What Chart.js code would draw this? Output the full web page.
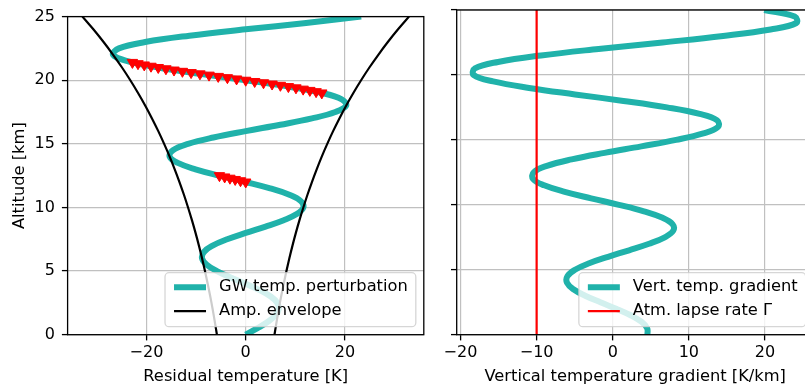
<!DOCTYPE html>
<html>
<head>
<meta charset="utf-8">
<script src="https://cdn.jsdelivr.net/npm/chart.js@4.4.1/dist/chart.umd.min.js"></script>
<style>
  html, body { margin: 0; padding: 0; background: #fff; overflow: hidden; }
  #wrap { position: relative; width: 805px; height: 390px; overflow: hidden; }
  #leftBox { position: absolute; left: 0; top: 0; width: 440px; height: 390px; }
  #rightBox { position: absolute; left: 440px; top: 0; width: 380px; height: 390px; }
</style>
</head>
<body>
<div id="wrap">
  <div id="leftBox"><canvas id="perturbChart" width="440" height="390"></canvas></div>
  <div id="rightBox"><canvas id="gradientChart" width="380" height="390"></canvas></div>
</div>
<script>
// ---------- data ----------
const altitude = [0, 0.5, 1, 1.5, 2, 2.5, 3, 3.5, 4, 4.5, 5, 5.5, 6, 6.5, 7, 7.5, 8, 8.5, 9, 9.5,
  10, 10.5, 11, 11.5, 12, 12.5, 13, 13.5, 14, 14.5, 15, 15.5, 16, 16.5, 17, 17.5, 18, 18.5, 19, 19.5,
  20, 20.5, 21, 21.5, 22, 22.5, 23, 23.5, 24, 24.5, 25];

const gwPerturbation = [0, 2.30, 4.40, 5.95, 6.66, 6.37, 5.05, 2.83, 0, -3.03, -5.80, -7.85, -8.80, -8.42, -6.67, -3.74,
  0, 4.01, 7.66, 10.37, 11.62, 11.11, 8.80, 4.93, 0, -5.29, -10.12, -13.68, -15.33, -14.67, -11.62, -6.51,
  0, 6.98, 13.35, 18.07, 20.24, 19.36, 15.34, 8.60, 0, -9.22, -17.63, -23.85, -26.73, -25.56, -20.26, -11.35,
  0, 12.17, 23.28];

const tempGradient = [4.56, 4.52, 3.76, 2.35, 0.46, -1.63, -3.62, -5.17, -6.01, -5.96, -4.96, -3.10, -0.61, 2.15, 4.77, 6.83,
  7.94, 7.87, 6.55, 4.09, 0.81, -2.84, -6.30, -9.01, -10.48, -10.39, -8.65, -5.40, -1.07, 3.75, 8.32, 11.90,
  13.84, 13.72, 11.42, 7.13, 1.41, -4.96, -10.99, -15.71, -18.27, -18.11, -15.07, -9.42, -1.86, 6.54, 14.50, 20.73,
  24.12, 23.91, 19.90];

const envAltitude = [0, 1, 2, 3, 4, 5, 6, 7, 8, 9, 10, 11, 12, 13, 14, 15, 16, 17, 18, 19, 20, 21, 22, 23, 24, 25];
const envelope = [5.80, 6.22, 6.66, 7.14, 7.66, 8.21, 8.80, 9.43, 10.11, 10.84, 11.62, 12.45, 13.35, 14.31, 15.33,
  16.44, 17.62, 18.89, 20.24, 21.70, 23.26, 24.93, 26.73, 28.65, 30.71, 32.92];

// altitudes where the gradient drops below the lapse rate (red markers)
const unstableAlt = [12.0, 12.1, 12.2, 12.3, 12.4, 12.5,
  19.0, 19.1, 19.2, 19.3, 19.4, 19.5, 19.6, 19.7, 19.8, 19.9, 20.0, 20.1, 20.2, 20.3, 20.4,
  20.5, 20.6, 20.7, 20.8, 20.9, 21.0, 21.1, 21.2, 21.3, 21.4];
const unstableTemp = [0, -1.05, -2.12, -3.18, -4.24, -5.29,
  15.34, 14.19, 12.93, 11.58, 10.13, 8.60, 6.99, 5.32, 3.59, 1.81, 0, -1.84, -3.69, -5.54, -7.39,
  -9.22, -11.01, -12.76, -14.45, -16.08, -17.63, -19.09, -20.45, -21.71, -22.84];

const lapseRate = -10;
const lapseAlt = [0, 25];

const altTicks = [0, 5, 10, 15, 20, 25];
const tempTicks = [-20, 0, 20];
const gradTicks = [-20, -10, 0, 10, 20];

// ---------- styling ----------
const TEAL = "#20B2AA";
const FAMILY = "DejaVu Sans";
const tickFont = { family: FAMILY, size: 16 };
const labelFont = { family: FAMILY, size: 16.3 };

function fmt(v) {
    return v < 0 ? "\u2212" + Math.abs(v) : String(v);
}

function gridOpts() {
    return { color: "#c0c0c0", lineWidth: 1.2, tickColor: "#000", tickWidth: 1.3, tickLength: 5.7 };
}

// box on all four sides + a matplotlib-like legend in the lower right corner
const frameLegend = {
    id: "frameLegend",
    afterDraw(chart, args, opts) {
        const ctx = chart.ctx;
        const a = chart.chartArea;
        ctx.save();
        ctx.strokeStyle = "#000";
        ctx.lineWidth = 1.3;
        ctx.strokeRect(a.left, a.top, a.right - a.left, a.bottom - a.top);

        const items = opts.order.map(i => chart.data.datasets[i]);
        ctx.font = "16.3px \"DejaVu Sans\"";
        const tw = Math.max(...items.map(d => ctx.measureText(d.label).width));
        const w = tw + 62, h = 54;
        const x0 = a.right - 8 - w, y0 = a.bottom - 8 - h;
        ctx.beginPath();
        ctx.roundRect(x0, y0, w, h, 4);
        ctx.fillStyle = "rgba(255,255,255,0.8)";
        ctx.fill();
        ctx.strokeStyle = "rgba(204,204,204,0.8)";
        ctx.lineWidth = 1.3;
        ctx.stroke();

        items.forEach((d, i) => {
            const yy = y0 + 14.5 + i * 24;
            ctx.beginPath();
            ctx.moveTo(x0 + 9, yy);
            ctx.lineTo(x0 + 41, yy);
            ctx.strokeStyle = d.borderColor;
            ctx.lineWidth = d.borderWidth;
            ctx.stroke();
            ctx.fillStyle = "#000";
            ctx.textBaseline = "middle";
            ctx.textAlign = "left";
            ctx.fillText(d.label, x0 + 54, yy);
        });
        ctx.restore();
    }
};

function xScale(min, max, tickList, title) {
    return {
        type: "linear", min: min, max: max,
        afterBuildTicks: s => { s.ticks = tickList.map(v => ({ value: v })); },
        afterFit: s => { s.height = 55.3; },
        grid: gridOpts(),
        border: { display: false },
        ticks: { font: tickFont, color: "#000", padding: 3, callback: fmt },
        title: { display: true, text: title, font: labelFont, color: "#000", padding: { top: 0, bottom: 3.5 } }
    };
}

//============================== LEFT: perturbation ===========================
const perturbConfig = {
    type: "scatter",
    data: {
        datasets: [
            {
                label: "unstable",
                data: unstableAlt.map((z, i) => ({ x: unstableTemp[i], y: z })),
                showLine: false,
                pointStyle: "triangle",
                rotation: 180,
                pointRadius: 6,
                pointBackgroundColor: "#ff0000",
                pointBorderColor: "#ff0000",
                pointBorderWidth: 1,
                order: 1
            },
            {
                label: "Amp. envelope",
                data: envAltitude.map((z, i) => ({ x: -envelope[i], y: z })),
                showLine: true,
                borderColor: "#000",
                borderWidth: 2.2,
                pointRadius: 0,
                tension: 0.4,
                order: 2
            },
            {
                label: "Amp. envelope",
                data: envAltitude.map((z, i) => ({ x: envelope[i], y: z })),
                showLine: true,
                borderColor: "#000",
                borderWidth: 2.2,
                pointRadius: 0,
                tension: 0.4,
                order: 2
            },
            {
                label: "GW temp. perturbation",
                data: altitude.map((z, i) => ({ x: gwPerturbation[i], y: z })),
                showLine: true,
                borderColor: TEAL,
                borderWidth: 6,
                borderJoinStyle: "round",
                pointRadius: 0,
                tension: 0.4,
                order: 3
            }
        ]
    },
    options: {
        responsive: false,
        animation: false,
        events: [],
        layout: { padding: { top: 10, left: 0, right: 16.2, bottom: 0 } },
        plugins: {
            legend: { display: false },
            tooltip: { enabled: false },
            frameLegend: { order: [3, 1] }
        },
        scales: {
            x: xScale(-35.9, 35.9, tempTicks, "Residual temperature [K]"),
            y: {
                type: "linear", min: 0, max: 25,
                afterBuildTicks: s => { s.ticks = altTicks.map(v => ({ value: v })); },
                afterFit: s => { s.width = 67.6; },
                grid: gridOpts(),
                border: { display: false },
                ticks: { font: tickFont, color: "#000", padding: 7, callback: fmt },
                title: { display: true, text: "Altitude [km]", font: labelFont, color: "#000", padding: { top: 10.2, bottom: 0 } }
            }
        }
    },
    plugins: [frameLegend]
};

//============================== RIGHT: gradient ===========================
const gradientConfig = {
    type: "scatter",
    data: {
        datasets: [
            {
                label: "Atm. lapse rate \u0393",
                data: lapseAlt.map(z => ({ x: lapseRate, y: z })),
                showLine: true,
                borderColor: "#ff0000",
                borderWidth: 2.2,
                pointRadius: 0,
                order: 1
            },
            {
                label: "Vert. temp. gradient",
                data: altitude.map((z, i) => ({ x: tempGradient[i], y: z })),
                showLine: true,
                borderColor: TEAL,
                borderWidth: 6,
                borderJoinStyle: "round",
                pointRadius: 0,
                tension: 0.4,
                order: 2
            }
        ]
    },
    options: {
        responsive: false,
        animation: false,
        events: [],
        layout: { padding: { top: 10, left: 0, right: 6.3, bottom: 0 } },
        plugins: {
            legend: { display: false },
            tooltip: { enabled: false },
            frameLegend: { order: [1, 0] }
        },
        scales: {
            x: xScale(-20.5, 26.4, gradTicks, "Vertical temperature gradient [K/km]"),
            y: {
                type: "linear", min: 0, max: 25,
                afterBuildTicks: s => { s.ticks = altTicks.map(v => ({ value: v })); },
                afterFit: s => { s.width = 16.7; },
                grid: gridOpts(),
                border: { display: false },
                ticks: { display: false }
            }
        }
    },
    plugins: [frameLegend]
};

const perturbChart = new Chart(document.getElementById("perturbChart").getContext("2d"), perturbConfig);
const gradientChart = new Chart(document.getElementById("gradientChart").getContext("2d"), gradientConfig);
</script>
</body>
</html>
